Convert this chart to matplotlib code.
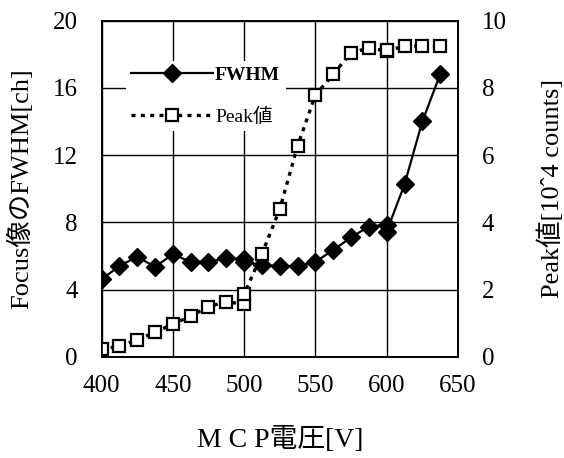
import numpy as np
import matplotlib.pyplot as plt
from matplotlib.lines import Line2D

# MCP voltage [V] (500 and 600 measured twice)
voltage = [400, 412.5, 425, 437.5, 450, 462.5, 475, 487.5, 500, 500, 512.5, 525,
           537.5, 550, 562.5, 575, 587.5, 600, 600, 612.5, 625, 637.5]
# FWHM of the focus image [ch]
fwhm = [4.6, 5.4, 5.95, 5.35, 6.1, 5.65, 5.65, 5.85, 5.8, 5.65, 5.45, 5.4,
        5.4, 5.65, 6.35, 7.1, 7.75, 7.85, 7.45, 10.25, 14.0, 16.8]
# Peak value [10^4 counts]
peak = [0.22, 0.32, 0.5, 0.73, 0.97, 1.21, 1.49, 1.64, 1.56, 1.86, 3.06, 4.39,
        6.27, 7.79, 8.4, 9.05, 9.18, 9.1, 9.12, 9.23, 9.25, 9.23]

x_ticks = [400, 450, 500, 550, 600, 650]
left_ticks = [0, 4, 8, 12, 16, 20]
right_ticks = [0, 2, 4, 6, 8, 10]

fam = ['Liberation Serif', 'Noto Sans CJK JP', 'DejaVu Sans']
plt.rcParams['font.family'] = fam

fig = plt.figure(figsize=(5.64, 4.58), dpi=100)
ax = fig.add_axes([0.180, 0.221, 0.632, 0.734])
ax2 = ax.twinx()

ax.plot(voltage, fwhm, '-', color='black', lw=1.6, marker='D', ms=9,
        mfc='black', mec='black')
ax2.plot(voltage, peak, color='black', lw=2.4, ls=(0, (1.2, 1.6)),
         marker='s', ms=9, mfc='white', mec='black', mew=1.6)

ax.set_xlim(400, 650)
ax.set_ylim(0, 20)
ax2.set_ylim(0, 10)
ax.set_xticks(x_ticks)
ax.set_yticks(left_ticks)
ax2.set_yticks(right_ticks)
ax.grid(True, color='black', lw=1.0)
ax.set_axisbelow(True)

ax.tick_params(axis='x', length=0, labelsize=18, pad=13)
ax.tick_params(axis='y', length=0, labelsize=18, pad=17)
ax2.tick_params(axis='y', length=0, labelsize=18, pad=17)
for a in (ax, ax2):
    for s in a.spines.values():
        s.set_color('black')
        s.set_linewidth(1.2)

ax.set_xlabel('M C P電圧[V]', fontsize=20, labelpad=22)
ax.set_ylabel('Focus像のFWHM[ch]', fontsize=19, labelpad=14)
ax2.set_ylabel('Peak値[10ˆ4 counts]', fontsize=19, labelpad=22)

handles = [
    Line2D([], [], color='black', lw=1.6, marker='D', ms=9, mfc='black'),
    Line2D([], [], color='black', lw=2.4, ls=(0, (1.2, 1.6)), marker='s',
           ms=9, mfc='white', mew=1.6),
]
leg = ax2.legend(handles, ['FWHM', 'Peak値'], loc='upper left',
                 bbox_to_anchor=(0.04, 0.91), frameon=True, fancybox=False,
                 edgecolor='none', facecolor='white', framealpha=1,
                 fontsize=14, handlelength=4.2, labelspacing=1.2,
                 handletextpad=0.1, borderpad=0.3)
leg.get_texts()[0].set_fontweight('bold')

fig.savefig('out.png', dpi=100)
